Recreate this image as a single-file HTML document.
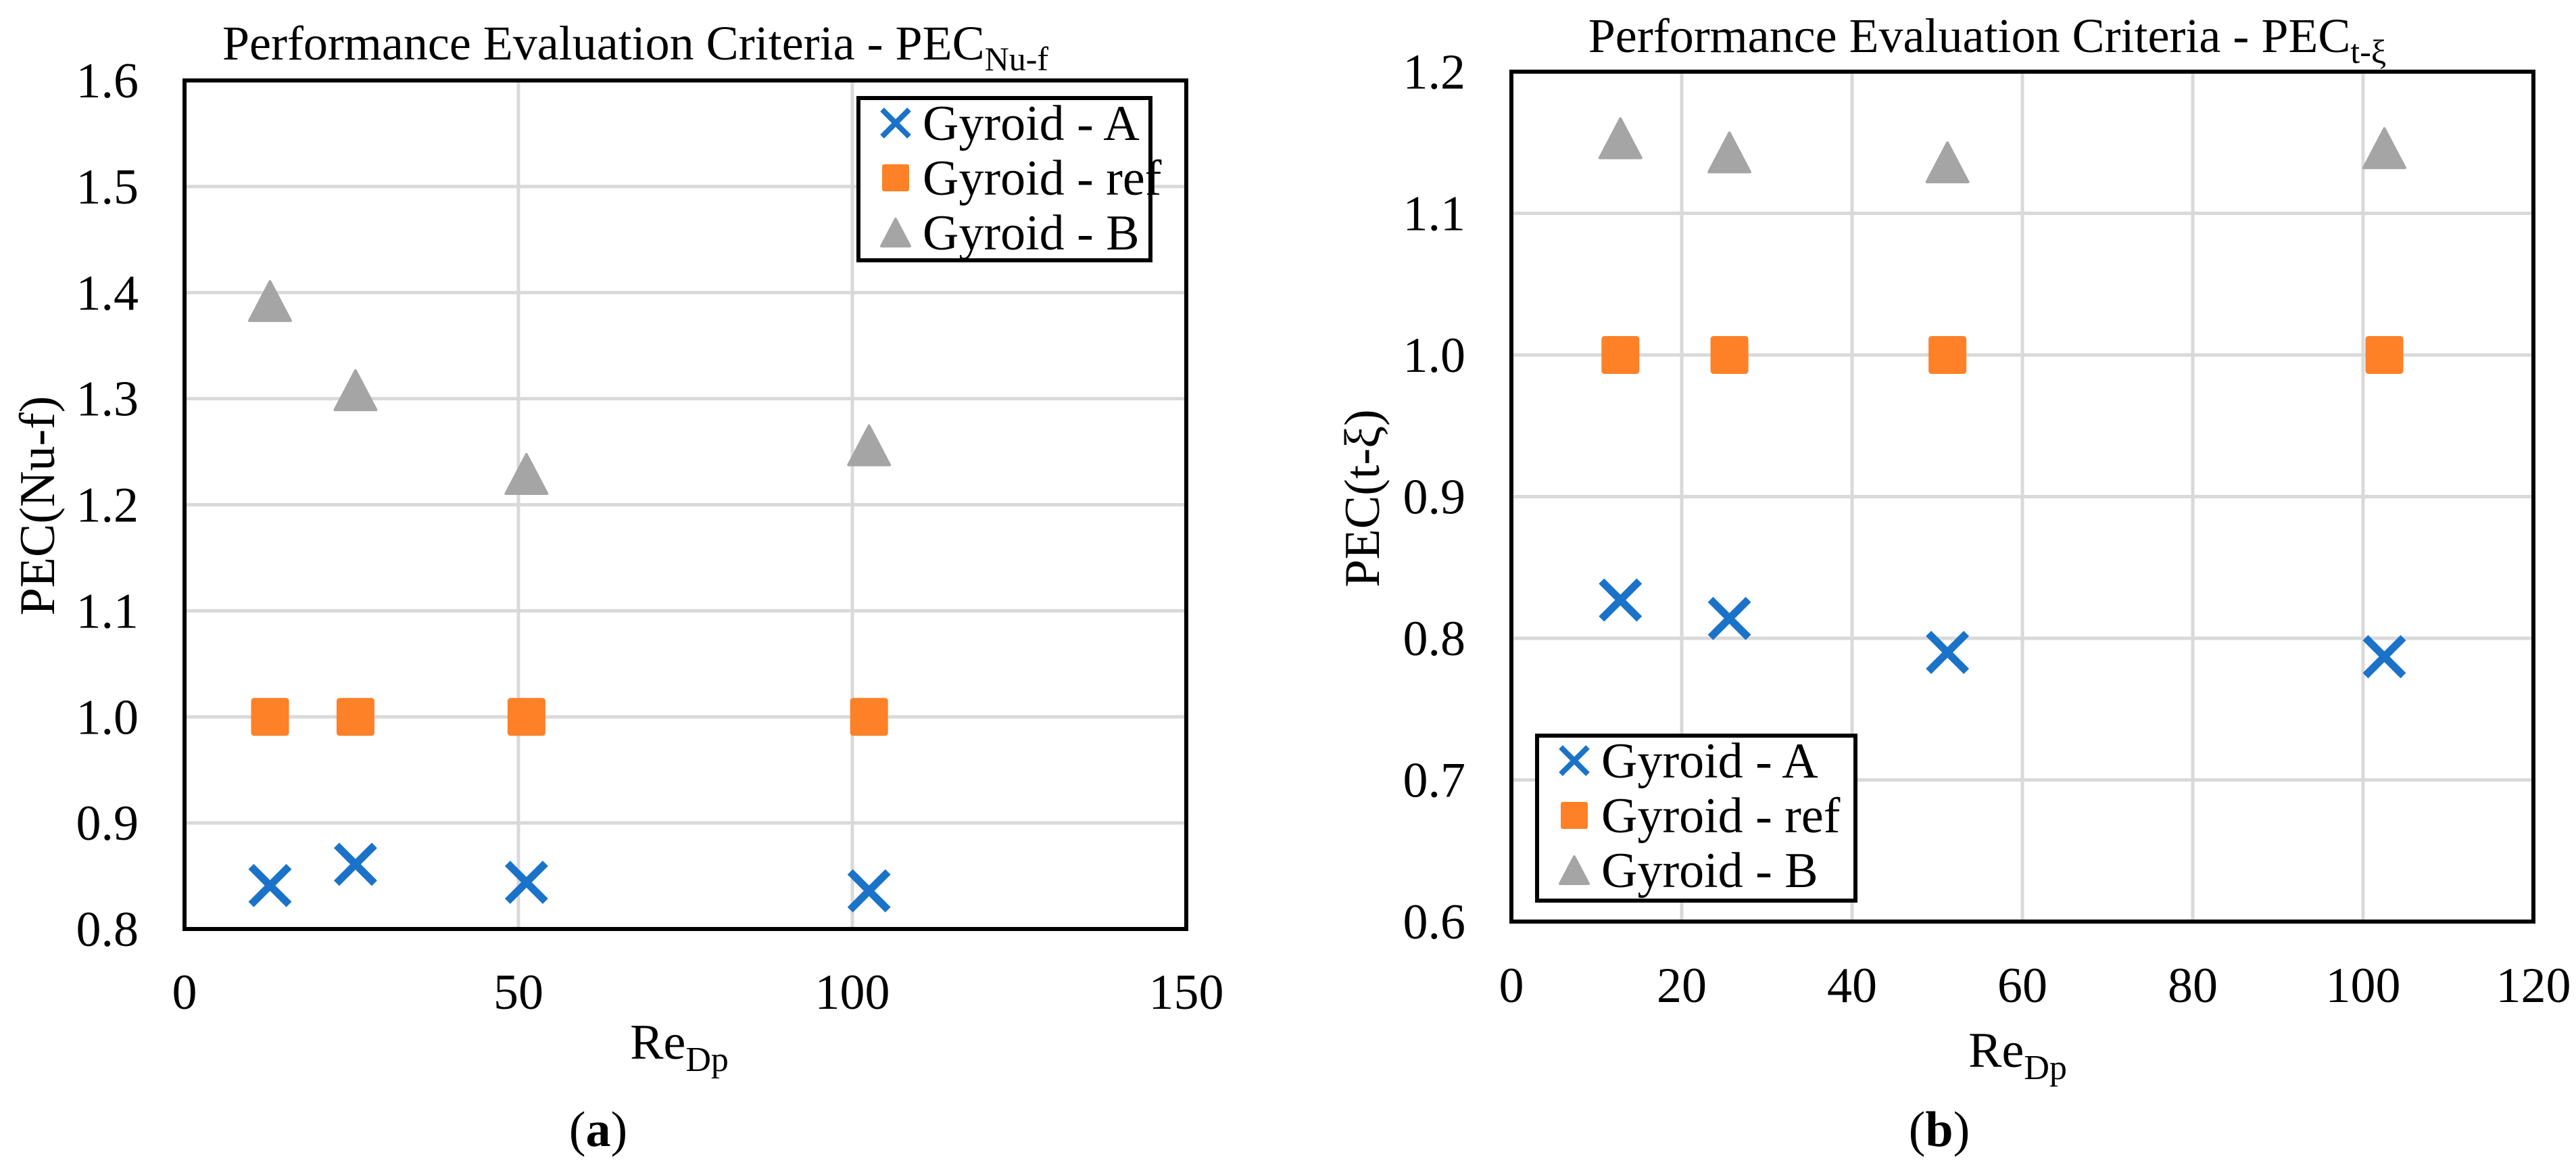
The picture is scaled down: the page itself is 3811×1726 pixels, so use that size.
<!DOCTYPE html>
<html><head><meta charset="utf-8"><style>
html,body{margin:0;padding:0;background:#fff;}
svg{display:block;font-family:"Liberation Serif",serif;}
</style></head><body>
<svg id="fig" width="3811" height="1726" viewBox="0 0 3811 1726" xmlns="http://www.w3.org/2000/svg"></svg>
<script>
// ---- data ----
const reValues = [12.8, 25.6, 51.2, 102.5];
const nufA = [0.841, 0.861, 0.844, 0.836];
const nufRef = [1.0, 1.0, 1.0, 1.0];
const nufB = [1.392, 1.308, 1.229, 1.256];
const txiA = [0.827, 0.814, 0.790, 0.787];
const txiRef = [1.0, 1.0, 1.0, 1.0];
const txiB = [1.153, 1.143, 1.136, 1.146];
const xTicksA = [0, 50, 100, 150];
const yTicksA = [0.8, 0.9, 1.0, 1.1, 1.2, 1.3, 1.4, 1.5, 1.6];
const xTicksB = [0, 20, 40, 60, 80, 100, 120];
const yTicksB = [0.6, 0.7, 0.8, 0.9, 1.0, 1.1, 1.2];
const seriesNames = ["Gyroid - A", "Gyroid - ref", "Gyroid - B"];

const NS = "http://www.w3.org/2000/svg";
const svg = document.getElementById('fig');
function mk(tag, attrs, parent, text){
  const e = document.createElementNS(NS, tag);
  for (const k in attrs) e.setAttribute(k, attrs[k]);
  if (text !== undefined) e.textContent = text;
  (parent || svg).appendChild(e);
  return e;
}
const BLUE="#1a73c8", ORANGE="#fe8027", GRAY="#a5a5a5";

function marker(g, kind, cx, cy, s){
  let e;
  if (kind===0){
    const h=s/2;
    e = mk('path',{d:`M${cx-h},${cy-h}L${cx+h},${cy+h}M${cx+h},${cy-h}L${cx-h},${cy+h}`,stroke:BLUE,'stroke-width':s*0.2,fill:'none'},g);
  } else if (kind===1){
    e = mk('rect',{x:cx-s/2,y:cy-s/2,width:s,height:s,rx:s*0.08,fill:ORANGE},g);
  } else {
    const h=s/2;
    e = mk('path',{d:`M${cx},${cy-h}L${cx+h*1.05},${cy+h}L${cx-h*1.05},${cy+h}Z`,fill:GRAY,stroke:GRAY,'stroke-width':4,'stroke-linejoin':'round'},g);
  }
  return e;
}

function chart(cfg){
  const g = mk('g',{});
  
  
  const {L,R,T,B,xmin,xmax,ymin,ymax} = cfg;
  const X = v => L + (v-xmin)/(xmax-xmin)*(R-L);
  const Y = v => B - (v-ymin)/(ymax-ymin)*(B-T);
  cfg.yTicks.forEach(t=>{
    const l = mk('line',{x1:L,x2:R,y1:Y(t),y2:Y(t),stroke:'#d9d9d9','stroke-width':5},g);
    
    
    const tx = mk('text',{x:cfg.yLabelX,y:Y(t)+25,'text-anchor':'end','font-size':74},g,t.toFixed(1));
    
    
  });
  cfg.xTicks.forEach(t=>{
    const l = mk('line',{x1:X(t),x2:X(t),y1:T,y2:B,stroke:'#d9d9d9','stroke-width':5},g);
    
    
    const tx = mk('text',{x:X(t),y:cfg.xLabelY,'text-anchor':'middle','font-size':74},g,String(t));
    
    
  });
  const box = mk('rect',{x:L,y:T,width:R-L,height:B-T,fill:'none',stroke:'#000','stroke-width':6},g);
  
  
  cfg.series.forEach((vals,si)=>{
    vals.forEach((v,i)=>{
      const m = marker(g, si, X(reValues[i]), Y(v), si===2?58:56);
      
      
    });
  });
  const ti = mk('text',{x:cfg.titleX,y:cfg.titleY,'text-anchor':'middle','font-size':72},g);
  
  
  mk('tspan',{},ti,'Performance Evaluation Criteria - PEC');
  mk('tspan',{'font-size':50,dy:16},ti,cfg.titleSub);
  const xt = mk('text',{x:cfg.xTitleX,y:cfg.xTitleY,'text-anchor':'middle','font-size':74},g);
  
  
  mk('tspan',{},xt,'Re');
  mk('tspan',{'font-size':52,dy:18},xt,'Dp');
  const yt = mk('text',{x:0,y:0,'text-anchor':'middle','font-size':74,transform:`translate(${cfg.yTitleX},${cfg.yTitleY}) rotate(-90)`},g,cfg.yTitle);
  
  
  const lg = mk('g',{},g);
  
  
  const lb = cfg.legend;
  mk('rect',{x:lb.x,y:lb.y,width:lb.w,height:lb.h,fill:'#fff',stroke:'#000','stroke-width':6},lg);
  seriesNames.forEach((n,i)=>{
    const cy = lb.y + 37 + i*81;
    const ent = mk('g',{},lg);
    
    
    marker(ent, i, lb.x+55, cy, 40);
    mk('text',{x:lb.x+95,y:cy+25,'font-size':74},ent,n);
  });
  const pl = mk('text',{x:cfg.panelX,y:1695,'text-anchor':'middle','font-size':74},g);
  
  
  mk('tspan',{},pl,'(');
  mk('tspan',{'font-weight':'bold'},pl,cfg.panel);
  mk('tspan',{},pl,')');
}

chart({name:'chart-pec-nu-f',L:273,R:1755,T:119,B:1374,xmin:0,xmax:150,ymin:0.8,ymax:1.6,
  xTicks:xTicksA,yTicks:yTicksA,series:[nufA,nufRef,nufB],
  yLabelX:205,xLabelY:1492,titleX:940,titleY:88,titleSub:'Nu-f',
  xTitleX:1005,xTitleY:1566,yTitleX:80,yTitleY:748,yTitle:'PEC(Nu-f)',
  legend:{x:1270,y:145,w:432,h:240},panel:'a',panelX:885});
chart({name:'chart-pec-t-xi',L:2236,R:3748,T:106,B:1363,xmin:0,xmax:120,ymin:0.6,ymax:1.2,
  xTicks:xTicksB,yTicks:yTicksB,series:[txiA,txiRef,txiB],
  yLabelX:2168,xLabelY:1482,titleX:2940,titleY:77,titleSub:'t-ξ',
  xTitleX:2985,xTitleY:1578,yTitleX:2040,yTitleY:737,yTitle:'PEC(t-ξ)',
  legend:{x:2274,y:1088,w:471,h:244},panel:'b',panelX:2869});
</script>
</body></html>
